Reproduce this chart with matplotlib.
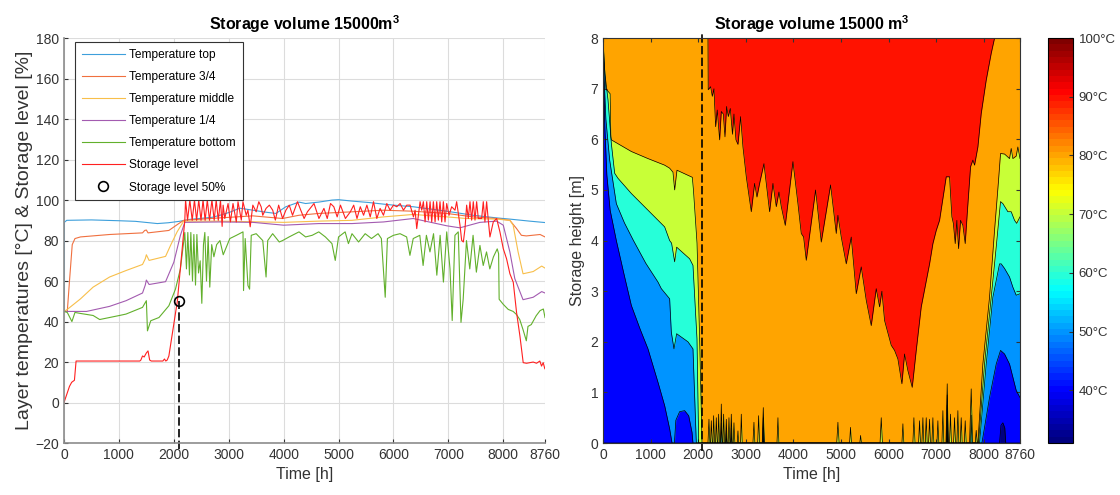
import numpy as np
import matplotlib
matplotlib.use('Agg')
import matplotlib.pyplot as plt
from matplotlib import cm, colors

plt.rcParams['font.family'] = ['Liberation Sans', 'DejaVu Sans']
plt.rcParams['mathtext.fontset'] = 'custom'
plt.rcParams['mathtext.rm'] = 'Liberation Sans'
plt.rcParams['mathtext.bf'] = 'Liberation Sans:bold'

# ---------------- left panel: layer temperatures & storage level ----------------
t_half = 2090          # time where storage level reaches 50 %

top = [(0, 45), (5, 89), (50, 90), (500, 90.2), (1000, 89.8), (1300, 89.5), (1700, 88.4),
       (1900, 88.8), (2100, 89.5), (2300, 90.5), (2500, 91), (2700, 91.5), (2840, 92.5),
       (3020, 94), (3200, 96), (3440, 95), (3680, 94), (3860, 93.4), (4040, 96.7),
       (4280, 99), (4400, 98.3), (4640, 99), (4880, 100), (5000, 100.2), (5245, 99.5),
       (5550, 98.8), (5820, 98), (6000, 97.5), (6360, 96.7), (6970, 94.5), (7450, 92.5),
       (7880, 91.2), (8120, 90.6), (8480, 89.6), (8760, 88.9)]

three_quarter = [(0, 45), (60, 45), (100, 60), (150, 78), (200, 81), (300, 81.8), (830, 83),
                 (1430, 83.8), (1470, 85), (1500, 85.2), (1530, 83.8), (1910, 85), (2090, 88.4),
                 (2180, 90), (2840, 91.2), (3440, 92.2), (3980, 90.9), (4280, 92.5), (4640, 93.4),
                 (5245, 94.2), (5820, 95), (6360, 94.5), (6970, 93.4), (7450, 91.7), (7880, 90.9),
                 (8120, 90), (8240, 86), (8330, 82.6), (8420, 82.3), (8670, 83), (8760, 81.8)]

middle = [(0, 45), (60, 46), (300, 51.2), (530, 57), (830, 62), (1130, 65.2), (1430, 68.2),
          (1480, 71), (1500, 73), (1550, 70.2), (1850, 72.2), (1940, 77.6), (2060, 84.3),
          (2180, 89.6), (2840, 89.6), (4000, 89), (4640, 89.6), (5245, 90), (5820, 91.7),
          (6360, 92.9), (6970, 91.7), (7330, 90.9), (7880, 90.6), (8120, 90), (8180, 87.6),
          (8270, 74.4), (8360, 63.6), (8545, 64.7), (8700, 67.4), (8760, 66.4)]

one_quarter = [(0, 45), (410, 45), (830, 47.5), (1130, 50.3), (1430, 54.1), (1480, 58),
               (1500, 60.5), (1550, 58.3), (1850, 59.7), (2000, 69.3), (2120, 82.6), (2200, 89),
               (2840, 89.2), (3440, 89), (4000, 87.6), (4640, 88.4), (5245, 88.4), (5820, 89.2),
               (6360, 90.9), (6970, 87.3), (7210, 86.3), (7575, 89), (7880, 89.6), (8000, 87.6),
               (8120, 74.4), (8210, 61.2), (8360, 50.8), (8545, 52), (8700, 54.8), (8760, 54.1)]

bottom = [(0, 45), (60, 44.5), (144, 40), (200, 44.5), (300, 44), (530, 43), (650, 41),
          (830, 42), (1010, 43), (1130, 43.7), (1430, 47), (1500, 50.3), (1520, 35.4),
          (1580, 40.4), (1730, 42), (1910, 47.8), (2030, 56), (2120, 66), (2200, 84),
          (2230, 66), (2255, 84), (2285, 63), (2310, 84), (2340, 60), (2365, 83), (2395, 58),
          (2420, 83), (2450, 64), (2480, 70), (2510, 49), (2540, 78), (2565, 84), (2595, 60),
          (2625, 82), (2655, 57), (2690, 78), (2730, 72), (2780, 78), (2840, 80), (2900, 73),
          (3020, 81), (3140, 82.6), (3260, 84.3), (3270, 55.3), (3300, 81), (3350, 57.8),
          (3380, 56), (3410, 82.6), (3500, 83.4), (3620, 80), (3680, 62), (3710, 80),
          (3800, 83.4), (3920, 79.3), (3980, 80), (4100, 81.8), (4280, 84.3), (4400, 81.8),
          (4520, 82.6), (4640, 84.3), (4760, 81.8), (4880, 78.5), (4940, 70.2), (5000, 81.8),
          (5120, 84.3), (5180, 78.5), (5245, 83.4), (5365, 79.3), (5485, 83.4), (5600, 81),
          (5720, 83.4), (5780, 81), (5850, 52), (5890, 81), (6000, 82.6), (6120, 83.4),
          (6240, 81.8), (6300, 72.7), (6360, 81), (6480, 82.6), (6540, 67.7), (6600, 82.6),
          (6665, 74.4), (6730, 83.4), (6790, 62.9), (6850, 82.6), (6910, 59.5), (6970, 84.3),
          (7030, 66), (7070, 40.5), (7120, 82.6), (7180, 84.3), (7230, 39.6), (7270, 51),
          (7330, 80), (7390, 66), (7450, 82.6), (7510, 64.4), (7575, 77.6), (7635, 67.7),
          (7695, 74.4), (7755, 66), (7820, 71.9), (7890, 75.9), (7915, 73.5), (7925, 51),
          (8000, 48.5), (8090, 46), (8180, 45), (8240, 43.5), (8300, 41), (8360, 36),
          (8420, 30.5), (8450, 37.6), (8510, 38.5), (8600, 42.9), (8670, 45.4), (8730, 46.2),
          (8760, 42)]

level = [(0, 0), (100, 8), (140, 10), (190, 11), (220, 20.5), (1380, 20.5), (1400, 21),
         (1430, 23), (1460, 22.5), (1500, 24.5), (1530, 25.5), (1560, 21), (1590, 20.5),
         (1800, 20.5), (1830, 21.5), (1854, 20.5), (1880, 21), (1910, 23), (2064, 50),
         (2166, 80), (2200, 90), (2214, 100), (2250, 90), (2292, 100), (2335, 90), (2376, 100),
         (2415, 90), (2454, 100), (2495, 90), (2532, 100), (2570, 90), (2610, 100), (2650, 90),
         (2694, 100), (2735, 90), (2772, 100), (2810, 90), (2850, 100), (2880, 87),
         (2898, 97.5), (2928, 90.9), (2988, 98.3), (3030, 89.2), (3078, 98.3), (3138, 89.2),
         (3169, 99.2), (3229, 90.1), (3259, 99.2), (3319, 92.5), (3349, 95), (3391, 86.8),
         (3439, 97.5), (3500, 94.2), (3548, 99.2), (3590, 96.7), (3620, 92.5), (3680, 95.9),
         (3740, 97.5), (3801, 95), (3849, 90.1), (3909, 97.5), (3981, 90.9), (4041, 95),
         (4102, 97.5), (4162, 92.5), (4252, 99.2), (4312, 95), (4373, 90.9), (4433, 94.2),
         (4553, 98.3), (4643, 90.9), (4734, 95.9), (4794, 90.9), (4854, 98.3), (4914, 96.7),
         (4975, 91.7), (5035, 97.5), (5125, 90.9), (5215, 94.2), (5276, 97.5), (5336, 90.9),
         (5396, 96.7), (5456, 92.5), (5516, 97.5), (5577, 91.7), (5637, 99.2), (5697, 90.9),
         (5757, 95.9), (5818, 92.5), (5879, 98.3), (5939, 95), (6000, 97.5), (6061, 96.7),
         (6121, 98.3), (6182, 95), (6242, 97.5), (6303, 97.5), (6364, 91.7), (6394, 95),
         (6424, 85.9), (6485, 99.2), (6515, 95), (6545, 99.2), (6576, 89.2), (6606, 99.2),
         (6636, 90.1), (6667, 99.2), (6697, 89.2), (6727, 99.2), (6758, 89.2), (6788, 99.2),
         (6818, 90.1), (6848, 99.2), (6879, 89.2), (6909, 99.2), (6939, 89.2), (6970, 98.3),
         (7012, 92.5), (7060, 96.7), (7121, 95), (7151, 99.2), (7212, 87.6), (7242, 80.1),
         (7273, 79.3), (7303, 85.9), (7333, 97.5), (7363, 90.9), (7394, 99.2), (7424, 90.1),
         (7454, 99.2), (7485, 90.1), (7515, 99.2), (7545, 90.9), (7606, 90.9), (7636, 99.2),
         (7666, 89.2), (7697, 99.2), (7727, 90.1), (7757, 81.8), (7818, 89.2), (7879, 90.9),
         (7939, 84.3), (8000, 76), (8060, 71), (8121, 63.6), (8182, 59.4), (8242, 44.5),
         (8303, 32.9), (8363, 19.7), (8424, 19.4), (8545, 20), (8606, 19.4), (8666, 20.5),
         (8697, 18), (8727, 19.7), (8757, 16.7)]

series = [('Temperature top', top, '#3d9fdb'),
          ('Temperature 3/4', three_quarter, '#f0703f'),
          ('Temperature middle', middle, '#f8bf4a'),
          ('Temperature 1/4', one_quarter, '#a35bb0'),
          ('Temperature bottom', bottom, '#62b02c'),
          ('Storage level', level, '#ff2020')]

# ---------------- right panel: isotherm heights [m] over time ----------------
iso50 = [(0, 8), (15, 7.2), (40, 6.2), (80, 5.3), (150, 4.6), (280, 4.0), (450, 3.3),
         (595, 2.72), (780, 2.25), (945, 1.86), (1155, 1.2), (1295, 0.74), (1400, 0.28),
         (1450, 0), (1500, 0), (1530, 0.45), (1610, 0.62), (1715, 0.64), (1800, 0.54),
         (1870, 0.21), (1890, 0), (7225, 0), (7231, 0.5), (7240, 0), (7960, 0), (8120, 0.9),
         (8260, 1.56), (8351, 1.83), (8435, 1.76), (8540, 1.56), (8610, 1.3), (8680, 1.04),
         (8760, 0.9)]

iso60 = [(0, 8), (25, 7.2), (60, 6.4), (140, 5.59), (280, 4.73), (450, 4.35), (640, 4.0),
         (900, 3.55), (1155, 3.18), (1225, 3.05), (1400, 2.85), (1435, 2.19), (1491, 1.86),
         (1547, 2.16), (1785, 2.0), (1890, 1.86), (1960, 0), (3360, 0), (3367, 0.3),
         (3375, 0), (7220, 0), (7231, 0.75), (7245, 0), (7910, 0), (8050, 1.56), (8190, 2.88),
         (8330, 3.54), (8365, 3.54), (8435, 3.45), (8540, 3.28), (8610, 3.08), (8680, 2.92),
         (8760, 2.95)]

iso70 = [(0, 8), (40, 7.3), (105, 6.78), (175, 5.92), (245, 5.33), (315, 5.23), (595, 4.93),
         (945, 4.6), (1295, 4.27), (1400, 4.0), (1440, 3.95), (1505, 3.58), (1547, 3.87),
         (1820, 3.64), (1890, 3.51), (1974, 2.06), (2010, 0), (2470, 0), (2485, 0.4),
         (2500, 0), (2580, 0), (2590, 0.25), (2600, 0), (2685, 0), (2695, 0.3), (2705, 0),
         (3350, 0), (3367, 0.5), (3385, 0), (7215, 0), (7231, 0.95), (7250, 0), (7720, 0),
         (7735, 0.55), (7750, 0), (7889, 0), (8015, 1.56), (8155, 2.88), (8260, 3.87),
         (8351, 4.77), (8400, 4.73), (8505, 4.57), (8575, 4.57), (8645, 4.4), (8690, 4.34),
         (8760, 4.47)]

iso80 = [(0, 8), (20, 7.6), (60, 7.0), (150, 6.9), (165, 6.05), (175, 5.99), (595, 5.76),
         (945, 5.62), (1295, 5.49), (1400, 5.43), (1470, 5.35), (1505, 5.0), (1554, 5.39),
         (1785, 5.29), (1876, 5.25), (1900, 5.0), (1975, 3.95), (2030, 2.06), (2080, 0),
         (2205, 0), (2226, 0.47), (2245, 0), (2260, 0), (2275, 0.44), (2295, 0), (2310, 0),
         (2324, 0.54), (2345, 0), (2365, 0), (2380, 0.5), (2400, 0), (2415, 0), (2429, 0.57),
         (2450, 0), (2470, 0), (2485, 0.77), (2505, 0), (2520, 0), (2534, 0.57), (2555, 0),
         (2575, 0), (2590, 0.47), (2610, 0), (2630, 0), (2646, 0.5), (2665, 0), (2680, 0),
         (2695, 0.57), (2715, 0), (2735, 0), (2751, 0.4), (2770, 0), (2820, 0), (2835, 0.24),
         (2850, 0), (2890, 0), (2905, 0.57), (2925, 0), (3150, 0), (3171, 0.41), (3190, 0),
         (3250, 0), (3269, 0.54), (3290, 0), (3345, 0), (3367, 0.7), (3390, 0), (3655, 0),
         (3675, 0.5), (3695, 0), (4910, 0), (4935, 0.41), (4960, 0), (5180, 0), (5200, 0.31),
         (5220, 0), (5395, 0), (5411, 0.15), (5430, 0), (5820, 0), (5845, 0.5), (5870, 0),
         (6280, 0), (6300, 0.38), (6320, 0), (6510, 0), (6531, 0.5), (6555, 0), (6630, 0),
         (6650, 0.44), (6670, 0), (6700, 0), (6720, 0.5), (6740, 0), (6770, 0), (6790, 0.5),
         (6810, 0), (6840, 0), (6860, 0.47), (6880, 0), (6910, 0), (6930, 0.5), (6950, 0),
         (7015, 0), (7035, 0.44), (7055, 0), (7120, 0), (7140, 0.64), (7160, 0), (7205, 0),
         (7231, 1.17), (7255, 0), (7280, 0), (7300, 0.57), (7320, 0), (7365, 0), (7385, 0.5),
         (7405, 0), (7435, 0), (7455, 0.64), (7475, 0), (7505, 0), (7525, 0.5), (7545, 0),
         (7590, 0), (7609, 0.44), (7630, 0), (7700, 0), (7735, 1.07), (7765, 0), (7820, 0),
         (7840, 0.25), (7860, 0), (7875, 0), (7980, 1.56), (8120, 2.88), (8225, 4.2),
         (8309, 5.19), (8351, 5.72), (8435, 5.71), (8540, 5.62), (8575, 5.82), (8610, 5.62),
         (8680, 5.67), (8715, 5.85), (8760, 5.62)]

iso90 = [(0, 8), (2205, 8), (2210, 6.98), (2261, 7.04), (2296, 6.85), (2331, 7.0),
         (2366, 6.25), (2400, 6.58), (2450, 5.99), (2485, 6.55), (2527, 6.5), (2562, 6.05),
         (2597, 6.65), (2632, 6.45), (2674, 6.61), (2720, 6.1), (2751, 6.5), (2793, 5.99),
         (2835, 5.9), (2891, 6.45), (2940, 5.85), (3010, 5.26), (3115, 4.57), (3185, 5.13),
         (3234, 4.86), (3290, 5.13), (3381, 5.52), (3500, 4.57), (3570, 5.13), (3640, 4.67),
         (3696, 4.96), (3745, 4.67), (3829, 4.3), (3990, 5.56), (4095, 4.73), (4165, 4.14),
         (4214, 4.07), (4270, 3.61), (4466, 5.0), (4585, 3.97), (4781, 5.1), (4900, 4.14),
         (4935, 4.5), (5005, 4.07), (5110, 3.54), (5215, 4.07), (5320, 2.95), (5425, 3.48),
         (5530, 2.82), (5635, 2.32), (5740, 3.05), (5810, 2.69), (5859, 3.0), (5915, 2.42),
         (6055, 1.93), (6125, 1.83), (6195, 1.66), (6279, 1.17), (6335, 1.76), (6405, 1.43),
         (6496, 1.1), (6580, 1.83), (6685, 2.69), (6860, 3.54), (6930, 3.94), (7000, 4.2),
         (7070, 4.4), (7210, 5.26), (7280, 5.26), (7329, 4.47), (7360, 4.34), (7399, 3.94),
         (7434, 4.4), (7469, 3.84), (7511, 4.4), (7560, 4.3), (7609, 3.94), (7651, 4.53),
         (7721, 5.46), (7770, 5.59), (7805, 5.49), (7875, 5.85), (7945, 6.51), (8050, 7.17),
         (8155, 7.7), (8225, 8.0), (8760, 8)]

iso40 = [(0, 0), (8330, 0), (8360, 0.35), (8400, 0.4), (8440, 0.3), (8460, 0), (8760, 0)]

bands = [(iso50, 50), (iso60, 60), (iso70, 70), (iso80, 80), (iso90, 90)]
xticks = [0, 1000, 2000, 3000, 4000, 5000, 6000, 7000, 8000, 8760]

# MATLAB style jet colormap (64 steps)
mjet = colors.LinearSegmentedColormap('mjet', {
    'red':   [(0, 0, 0), (0.375, 0, 0), (0.625, 1, 1), (0.875, 1, 1), (1, 0.5, 0.5)],
    'green': [(0, 0, 0), (0.125, 0, 0), (0.375, 1, 1), (0.625, 1, 1), (0.875, 0, 0), (1, 0, 0)],
    'blue':  [(0, 0.5, 0.5), (0.125, 1, 1), (0.375, 1, 1), (0.625, 0, 0), (1, 0, 0)]}, N=64)
norm = colors.Normalize(31, 100)

fig = plt.figure(figsize=(11.2, 4.95), dpi=100)
ax1 = fig.add_axes([64 / 1120, 0.105, 481 / 1120, 0.818])
ax2 = fig.add_axes([603 / 1120, 0.105, 417 / 1120, 0.818])
cax = fig.add_axes([1048 / 1120, 0.105, 25 / 1120, 0.818])

# left
for name, pts, col in series:
    arr = np.array(pts)
    ax1.plot(arr[:, 0], arr[:, 1], color=col, lw=0.8, label=name)
ax1.plot([t_half, t_half], [-23, 50], color='k', ls='--', dashes=(5, 2), lw=1.2, clip_on=False)
ax1.plot([t_half], [50], 'o', mfc='none', mec='k', mew=1.2, ms=7, label='Storage level 50%')
ax1.set_xlim(0, 8760)
ax1.set_ylim(-20, 180)
ax1.set_xticks(xticks)
ax1.set_yticks(range(-20, 181, 20))
ax1.grid(True, color='#dcdcdc', lw=0.8)
ax1.set_axisbelow(True)
for s in ['top', 'right']:
    ax1.spines[s].set_visible(False)
for s in ['left', 'bottom']:
    ax1.spines[s].set_color('#8c8c8c')
    ax1.spines[s].set_linewidth(1.2)
ax1.tick_params(direction='in', length=3, labelsize=10, colors='#333333')
ax1.set_xlabel('Time [h]', fontsize=11.5, color='#333333')
ax1.set_ylabel('Layer temperatures [°C] & Storage level [%]', fontsize=14, color='#333333',
               labelpad=2)
ax1.set_title(r'Storage volume 15000m$^{\mathbf{3}}$', fontsize=11.5, fontweight='bold')
leg = ax1.legend(loc='upper left', bbox_to_anchor=(0.023, 0.99), borderaxespad=0, fontsize=8.6,
                 handlelength=3.6, labelspacing=0.85, fancybox=False, framealpha=1,
                 edgecolor='#333333', borderpad=0.55, handletextpad=0.4)
leg.get_frame().set_linewidth(0.8)

# right
ax2.fill_between([0, 8760], 0, 8, color=mjet(norm(40)), lw=0)
for pts, lev in bands:
    arr = np.array(pts)
    ax2.fill_between(arr[:, 0], arr[:, 1], 8, color=mjet(norm(lev)), lw=0)
arr40 = np.array(iso40)
ax2.fill_between(arr40[:, 0], 0, arr40[:, 1], color=mjet(norm(30)), lw=0)
for pts in [iso40] + [b[0] for b in bands]:
    arr = np.array(pts)
    ax2.plot(arr[:, 0], arr[:, 1], color='k', lw=0.5)
ax2.plot([t_half, t_half], [-0.15, 8.15], color='k', ls='--', dashes=(5, 2), lw=1.2, clip_on=False)
ax2.set_xlim(0, 8760)
ax2.set_ylim(0, 8)
ax2.set_xticks(xticks)
ax2.set_yticks(range(0, 9))
ax2.tick_params(direction='in', length=3, labelsize=10, colors='#333333', top=True, right=True)
for s in ax2.spines.values():
    s.set_linewidth(0.8)
    s.set_color('#333333')
ax2.set_xlabel('Time [h]', fontsize=11.5, color='#333333')
ax2.set_ylabel('Storage height [m]', fontsize=11.5, color='#333333')
ax2.set_title(r'Storage volume 15000 m$^{\mathbf{3}}$', fontsize=11.5, fontweight='bold')

sm = cm.ScalarMappable(norm=norm, cmap=mjet)
cb = fig.colorbar(sm, cax=cax, ticks=range(40, 101, 10))
cb.ax.set_yticklabels(['%d°C' % v for v in range(40, 101, 10)])
cb.ax.tick_params(direction='in', length=3, labelsize=9.5, colors='#333333', pad=4)
cb.outline.set_linewidth(0.8)

plt.savefig('out.png', dpi=100)
